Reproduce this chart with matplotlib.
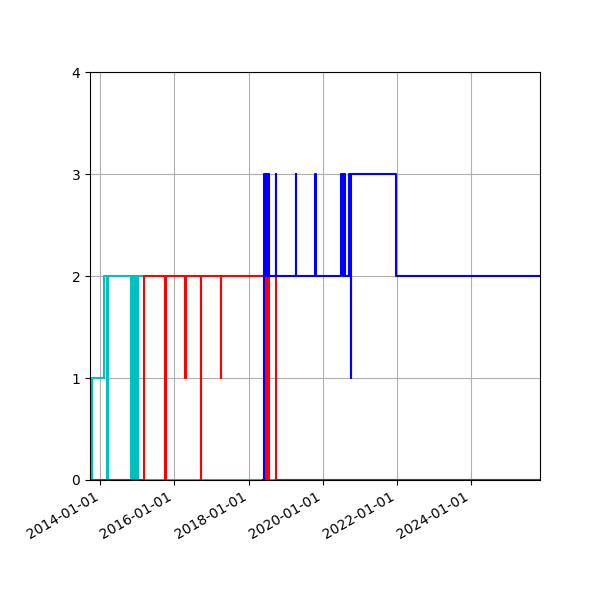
import matplotlib
matplotlib.use("Agg")
import matplotlib.pyplot as plt
import matplotlib.dates as mdates
import numpy as np

cyan_dates = ["2013-10-01", "2013-10-05", "2014-02-01", "2014-03-05", "2014-03-12",
              "2014-11-01", "2014-11-06", "2014-12-01", "2014-12-06", "2014-12-28",
              "2015-01-03", "2015-03-10", "2025-12-01"]
cyan_vals = [0, 1, 2, 0, 2, 0, 2, 0, 2, 0, 2, 0, 0]

red_dates = ["2013-10-05", "2015-03-10", "2015-10-01", "2015-10-08", "2016-04-15",
             "2016-04-22", "2016-09-15", "2016-09-22", "2017-04-01", "2017-04-08",
             "2018-06-01", "2018-06-10", "2018-06-20", "2018-07-01", "2018-07-10",
             "2018-07-25", "2018-09-25", "2025-12-01"]
red_vals = [0, 2, 0, 2, 1, 2, 0, 2, 1, 2, 0, 2, 0, 2, 0, 2, 0, 0]

blue_dates = ["2018-05-25", "2018-06-01", "2018-06-10", "2018-06-20", "2018-07-01",
              "2018-07-10", "2018-07-25", "2018-09-25", "2018-10-01", "2019-04-10",
              "2019-04-15", "2019-10-20", "2019-10-28", "2020-07-05", "2020-07-20",
              "2020-07-28", "2020-08-05", "2020-09-20", "2020-09-28", "2020-10-05",
              "2020-10-12", "2021-12-25", "2025-12-01"]
blue_vals = [0, 3, 2, 3, 2, 3, 2, 3, 2, 3, 2, 3, 2, 3, 2, 3, 2, 3, 2, 1, 3, 2, 2]

fig, ax = plt.subplots(figsize=(6, 6), dpi=100)

for d, v, c in [(cyan_dates, cyan_vals, 'c'), (red_dates, red_vals, 'r'),
                (blue_dates, blue_vals, 'b')]:
    ax.plot(np.array(d, dtype='datetime64[D]'), v, color=c, drawstyle='steps-post')

ax.set_ylim(0, 4)
ax.set_yticks([0, 1, 2, 3, 4])
ax.set_xlim(np.datetime64("2013-09-20"), np.datetime64("2025-11-15"))
ax.xaxis.set_major_locator(mdates.YearLocator(2))
ax.xaxis.set_major_formatter(mdates.DateFormatter("%Y-%m-%d"))
ax.grid(True)
fig.autofmt_xdate()
fig.subplots_adjust(left=0.15, right=0.9, top=0.88, bottom=0.2)

fig.savefig("out.png")
